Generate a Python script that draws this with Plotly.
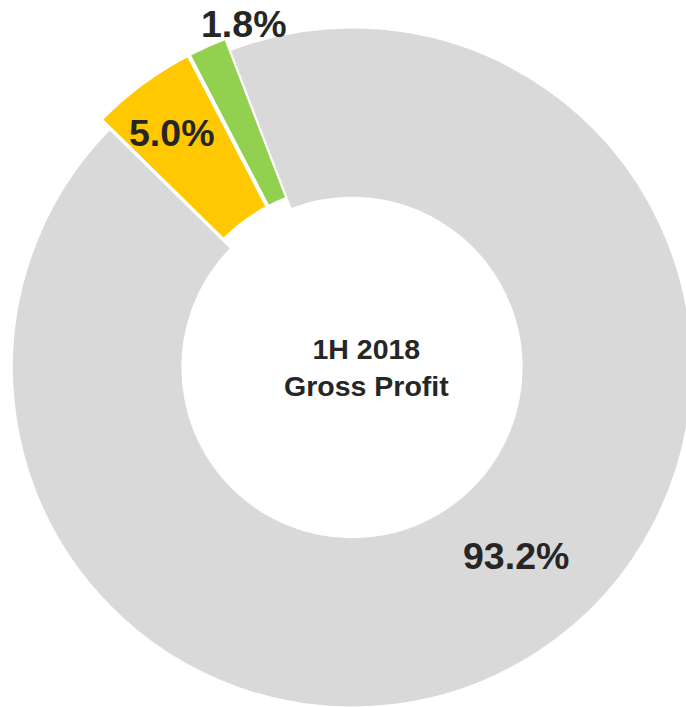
import plotly.graph_objects as go

# Share of 1H 2018 gross profit by segment (clockwise from upper left)
segments = ["Segment A", "Segment B", "Segment C"]
shares = [5.0, 1.8, 93.2]
colors = ["#FFC800", "#92D050", "#D9D9D9"]
pulls = [0.036, 0.036, 0.0]

center_title = ["1H 2018", "Gross Profit"]

W, H = 704, 735
FONT = "Liberation Sans, Arial, Helvetica, sans-serif"
TEXT_COLOR = "#262626"

fig = go.Figure(
    go.Pie(
        labels=segments,
        values=shares,
        hole=0.5,
        sort=False,
        direction="clockwise",
        rotation=-45.5,
        pull=pulls,
        marker=dict(colors=colors, line=dict(color="#FFFFFF", width=1.5)),
        textinfo="none",
        hoverinfo="label+percent",
        showlegend=False,
        domain=dict(x=[0, 1], y=[0, 1]),
    )
)

# value labels (pixel anchor of each label centre)
label_pos = [(171, 133), (243, 24), (516, 556)]
for v, (px, py) in zip(shares, label_pos):
    fig.add_annotation(
        x=px / W, y=1 - py / H, xref="paper", yref="paper",
        text=f"{v:.1f}%", showarrow=False,
        xanchor="center", yanchor="middle",
        font=dict(family=FONT, size=37.5, color=TEXT_COLOR, weight="bold"),
    )

fig.add_annotation(
    x=366 / W, y=1 - 367 / H, xref="paper", yref="paper",
    text="<br>".join(center_title), showarrow=False,
    xanchor="center", yanchor="middle", align="center",
    font=dict(family=FONT, size=28.5, color=TEXT_COLOR, weight="bold"),
)

fig.update_layout(
    width=W, height=H,
    margin=dict(l=0, r=0, t=0, b=0),
    paper_bgcolor="#FFFFFF",
    plot_bgcolor="#FFFFFF",
)

fig.write_html(
    "out.html",
    post_script=(
        "document.documentElement.style.overflow='hidden';"
        "document.body.style.overflow='hidden';"
        "document.body.style.margin='0';"
    ),
)
